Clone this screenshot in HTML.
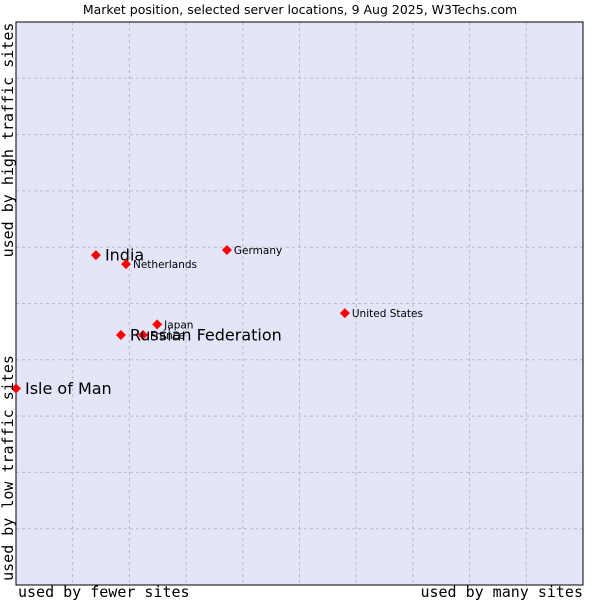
<!DOCTYPE html>
<html><head><meta charset="utf-8"><style>
body{margin:0;background:#fff;width:600px;height:600px;overflow:hidden}
svg{display:block}
</style></head><body>
<svg id="chart" width="600" height="600" xmlns="http://www.w3.org/2000/svg">
<text x="300" y="14" text-anchor="middle" font-family="DejaVu Sans, sans-serif" font-size="12.5" fill="#000">Market position, selected server locations, 9 Aug 2025, W3Techs.com</text>
<rect x="16" y="22" width="567" height="563" fill="#e3e5f8" stroke="none"/>
<g id="grid"></g>
<path d="M16,22 H583 V585 H16 Z" fill="none" stroke="#000" stroke-width="1"/>
<g id="marks"></g>
<text transform="translate(13,140) rotate(-90)" text-anchor="middle" font-family="DejaVu Sans Mono, Liberation Mono, monospace" font-size="15">used by high traffic sites</text>
<text transform="translate(13,468) rotate(-90)" text-anchor="middle" font-family="DejaVu Sans Mono, Liberation Mono, monospace" font-size="15">used by low traffic sites</text>
<text x="18" y="597" font-family="DejaVu Sans Mono, Liberation Mono, monospace" font-size="15">used by fewer sites</text>
<text x="583" y="597" text-anchor="end" font-family="DejaVu Sans Mono, Liberation Mono, monospace" font-size="15">used by many sites</text>
</svg>
<script>
const names = ["India","Netherlands","Germany","United States","Japan","France","Russian Federation","Isle of Man"];
const xValues = [14.1,19.4,37.2,58.0,24.9,22.4,18.5,0];
const yValues = [58.6,57.0,59.5,48.3,46.3,44.4,44.4,34.9];
const highlighted = [true,false,false,false,false,false,true,true];
const NS="http://www.w3.org/2000/svg";
const X0=16,X1=583,Y0=585,Y1=22;
const sx=v=>X0+v/100*(X1-X0);
const sy=v=>Y0-v/100*(Y0-Y1);
const grid=document.getElementById('grid');
for(let i=1;i<10;i++){
  const v=document.createElementNS(NS,'line');
  v.setAttribute('x1',sx(i*10));v.setAttribute('x2',sx(i*10));v.setAttribute('y1',Y1);v.setAttribute('y2',Y0);
  v.setAttribute('stroke','#bbb');v.setAttribute('stroke-dasharray','3,3');
  
  
  grid.appendChild(v);
  const h=document.createElementNS(NS,'line');
  h.setAttribute('y1',sy(i*10));h.setAttribute('y2',sy(i*10));h.setAttribute('x1',X0);h.setAttribute('x2',X1);
  h.setAttribute('stroke','#bbb');h.setAttribute('stroke-dasharray','3,3');
  
  
  grid.appendChild(h);
}
const marks=document.getElementById('marks');
names.forEach((n,i)=>{
  const x=sx(xValues[i]),y=sy(yValues[i]);
  const d=document.createElementNS(NS,'path');
  d.setAttribute('d',`M${x},${y-5}L${x+5},${y}L${x},${y+5}L${x-5},${y}Z`);
  d.setAttribute('fill','#f00');
  
  
  marks.appendChild(d);
  const t=document.createElementNS(NS,'text');
  const big=highlighted[i];
  t.setAttribute('x',x+(big?9:7));t.setAttribute('y',y+(big?5.5:4));
  t.setAttribute('font-family','DejaVu Sans, sans-serif');
  t.setAttribute('font-size',big?'16':'10.5');
  t.setAttribute('fill','#000');
  t.textContent=n;
  
  
  marks.appendChild(t);
});
</script>
</body></html>
